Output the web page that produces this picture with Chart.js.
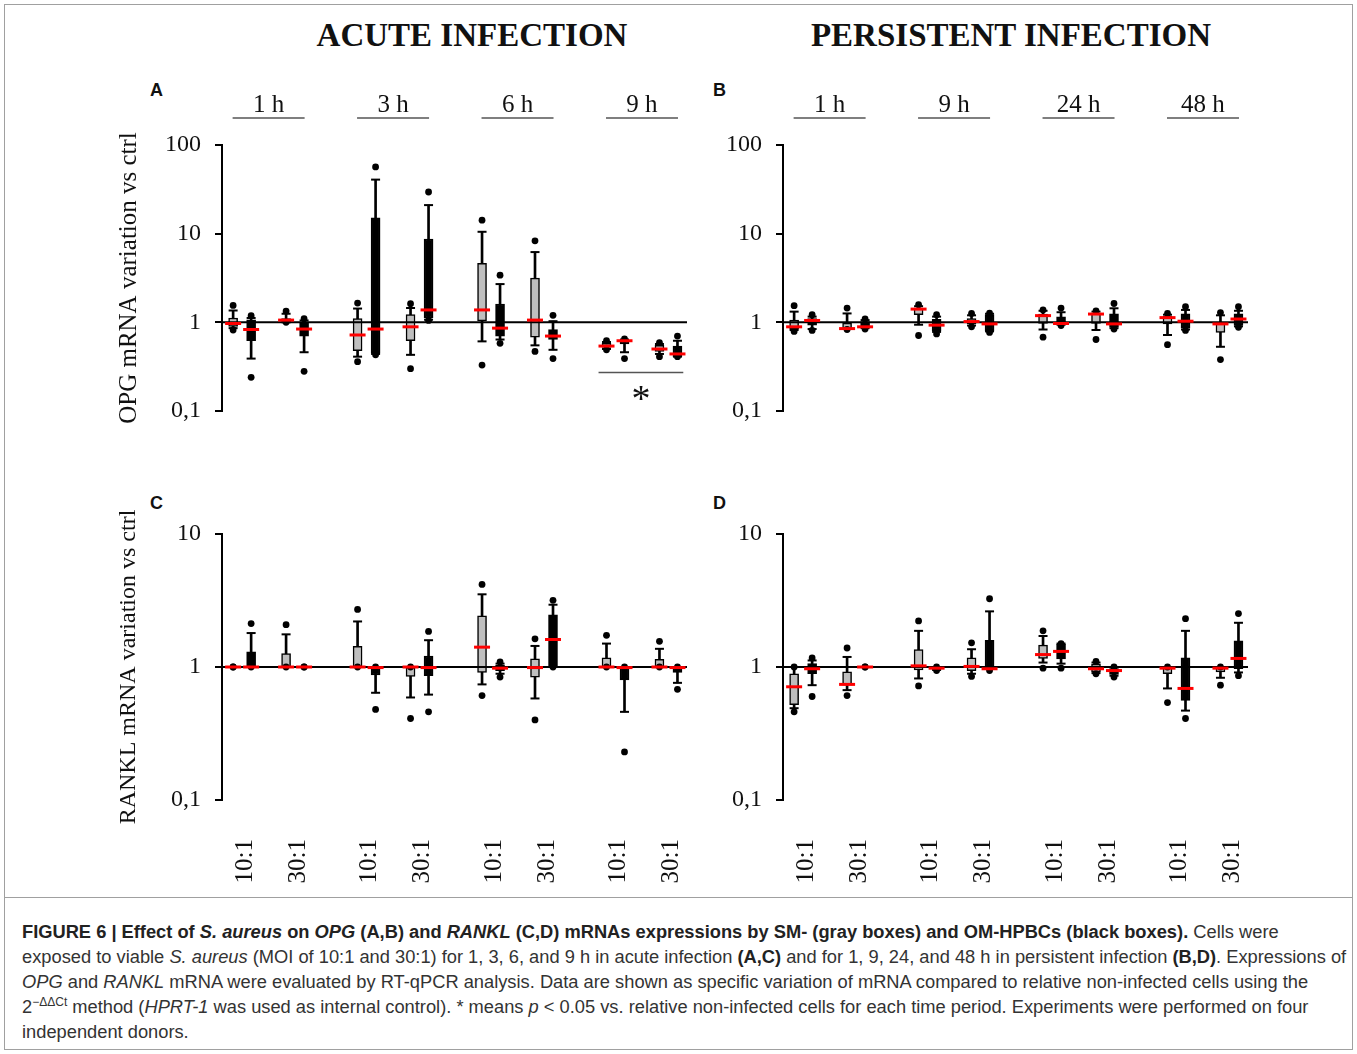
<!DOCTYPE html>
<html>
<head>
<meta charset="utf-8">
<title>Figure 6</title>
<script src="https://cdn.jsdelivr.net/npm/chart.js@4.4.1/dist/chart.umd.min.js"></script>
<style>
  body { margin: 0; background: #fff; }
  #page { position: relative; width: 1357px; height: 1054px; overflow: hidden; background: #fff; }
  .frame { position: absolute; left: 4px; top: 4px; width: 1349px; height: 1046px; border: 1px solid #a0a0a0; box-sizing: border-box; }
  .sep { position: absolute; left: 4px; top: 897px; width: 1349px; border-top: 1px solid #a0a0a0; }
  .head { position: absolute; top: 17px; width: 600px; text-align: center; font: bold 33px "Liberation Serif", serif; color: #111; }
  .letter { position: absolute; font: bold 18px "Liberation Sans", Arial, sans-serif; color: #111; }
  canvas { position: absolute; }
  .caption { position: absolute; left: 22px; top: 919px; font: 18.3px/25px "Liberation Sans", Arial, sans-serif; color: #333; white-space: nowrap; }
  .caption b { color: #222; }
  .caption sup { font-size: 12px; line-height: 0; }
</style>
</head>
<body>
<div id="page">
  <div class="frame"></div>
  <div class="sep"></div>
  <div class="head" style="left:172px">ACUTE INFECTION</div>
  <div class="head" style="left:711px">PERSISTENT INFECTION</div>
  <div class="letter" style="left:150px;top:80px">A</div>
  <div class="letter" style="left:713px;top:80px">B</div>
  <div class="letter" style="left:150px;top:493px">C</div>
  <div class="letter" style="left:713px;top:493px">D</div>

  <canvas id="chartA" width="600" height="370" style="left:100px;top:60px"></canvas>
  <canvas id="chartB" width="600" height="370" style="left:661px;top:60px"></canvas>
  <canvas id="chartC" width="600" height="420" style="left:100px;top:480px"></canvas>
  <canvas id="chartD" width="600" height="420" style="left:661px;top:480px"></canvas>

  <div class="caption">
    <b>FIGURE 6 | Effect of <i>S. aureus</i> on <i>OPG</i> (A,B) and <i>RANKL</i> (C,D) mRNAs expressions by SM- (gray boxes) and OM-HPBCs (black boxes).</b> Cells were<br>
    exposed to viable <i>S. aureus</i> (MOI of 10:1 and 30:1) for 1, 3, 6, and 9 h in acute infection <b>(A,C)</b> and for 1, 9, 24, and 48 h in persistent infection <b>(B,D)</b>. Expressions of<br>
    <i>OPG</i> and <i>RANKL</i> mRNA were evaluated by RT-qPCR analysis. Data are shown as specific variation of mRNA compared to relative non-infected cells using the<br>
    2<sup>&minus;&Delta;&Delta;Ct</sup> method (<i>HPRT-1</i> was used as internal control). * means <i>p</i> &lt; 0.05 vs. relative non-infected cells for each time period. Experiments were performed on four<br>
    independent donors.
  </div>
</div>

<script>
// categories
const acuteTimes = ["1 h", "3 h", "6 h", "9 h"];
const persistentTimes = ["1 h", "9 h", "24 h", "48 h"];
const mois = ["10:1", "30:1"];
const yTicksOPG = [0.1, 1, 10, 100];
const yTicksRANKL = [0.1, 1, 10];

// every row: [min, whisker low, q1, median, q3, whisker high, max]
// rows go 10:1, 30:1 for each time point in order
const opgAcuteSM = [
  [0.82, 0.86, 0.90, 0.97, 1.12, 1.36, 1.55],
  [1.00, 1.00, 1.01, 1.06, 1.10, 1.25, 1.34],
  [0.36, 0.41, 0.48, 0.72, 1.10, 1.43, 1.65],
  [0.30, 0.43, 0.62, 0.89, 1.22, 1.45, 1.62],
  [0.33, 0.61, 1.04, 1.38, 4.64, 10.5, 14.2],
  [0.47, 0.55, 0.68, 1.06, 3.15, 6.2, 8.3],
  [0.49, 0.50, 0.52, 0.54, 0.58, 0.60, 0.62],
  [0.41, 0.44, 0.47, 0.50, 0.55, 0.57, 0.59]
];
const opgAcuteOM = [
  [0.24, 0.39, 0.62, 0.83, 1.07, 1.12, 1.19],
  [0.28, 0.46, 0.70, 0.84, 1.00, 1.05, 1.10],
  [0.43, 0.44, 0.45, 0.84, 15.1, 40.7, 56.6],
  [1.05, 1.07, 1.12, 1.38, 8.7, 21.0, 29.5],
  [0.58, 0.64, 0.70, 0.86, 1.61, 2.7, 3.4],
  [0.39, 0.49, 0.64, 0.70, 0.83, 1.03, 1.20],
  [0.39, 0.46, 0.57, 0.62, 0.63, 0.64, 0.65],
  [0.41, 0.41, 0.41, 0.44, 0.54, 0.62, 0.70]
];
const opgPersistentSM = [
  [0.79, 0.82, 0.84, 0.89, 1.06, 1.32, 1.54],
  [0.83, 0.84, 0.85, 0.85, 0.98, 1.26, 1.45],
  [0.71, 0.94, 1.22, 1.41, 1.45, 1.52, 1.58],
  [0.89, 0.92, 0.96, 1.02, 1.10, 1.20, 1.26],
  [0.68, 0.83, 0.97, 1.19, 1.24, 1.35, 1.38],
  [0.64, 0.82, 0.97, 1.24, 1.26, 1.32, 1.35],
  [0.56, 0.72, 0.96, 1.13, 1.17, 1.22, 1.26],
  [0.38, 0.53, 0.77, 0.96, 0.98, 1.20, 1.29]
];
const opgPersistentOM = [
  [0.81, 0.84, 0.93, 1.05, 1.10, 1.16, 1.22],
  [0.84, 0.86, 0.88, 0.89, 1.02, 1.06, 1.09],
  [0.74, 0.78, 0.80, 0.93, 1.08, 1.16, 1.22],
  [0.77, 0.79, 0.80, 0.96, 1.22, 1.25, 1.27],
  [0.92, 0.94, 0.96, 0.97, 1.15, 1.30, 1.45],
  [0.84, 0.86, 0.88, 0.96, 1.25, 1.44, 1.63],
  [0.81, 0.83, 0.86, 1.03, 1.25, 1.38, 1.50],
  [0.88, 0.90, 0.92, 1.09, 1.25, 1.35, 1.50]
];
const ranklAcuteSM = [
  [1.00, 1.00, 1.00, 1.00, 1.00, 1.00, 1.00],
  [1.00, 1.00, 1.00, 1.00, 1.26, 1.76, 2.08],
  [1.00, 1.00, 1.00, 1.00, 1.43, 2.20, 2.71],
  [0.41, 0.59, 0.85, 1.00, 1.00, 1.00, 1.00],
  [0.61, 0.74, 0.91, 1.41, 2.42, 3.52, 4.18],
  [0.40, 0.58, 0.84, 0.99, 1.15, 1.44, 1.63],
  [1.00, 1.00, 1.00, 1.00, 1.17, 1.50, 1.73],
  [1.00, 1.00, 1.00, 1.00, 1.14, 1.37, 1.56]
];
const ranklAcuteOM = [
  [1.00, 1.00, 1.00, 1.00, 1.30, 1.80, 2.12],
  [1.00, 1.00, 1.00, 1.00, 1.00, 1.00, 1.00],
  [0.48, 0.64, 0.87, 0.99, 1.00, 1.00, 1.00],
  [0.46, 0.62, 0.86, 0.99, 1.21, 1.59, 1.85],
  [0.84, 0.89, 0.94, 0.98, 1.03, 1.06, 1.09],
  [1.00, 1.00, 1.00, 1.61, 2.47, 2.94, 3.17],
  [0.23, 0.46, 0.80, 0.99, 1.00, 1.00, 1.00],
  [0.68, 0.76, 0.91, 0.99, 1.00, 1.00, 1.00]
];
const ranklPersistentSM = [
  [0.46, 0.49, 0.52, 0.71, 0.89, 1.00, 1.00],
  [0.61, 0.67, 0.73, 0.74, 0.92, 1.19, 1.39],
  [0.72, 0.82, 0.95, 1.02, 1.35, 1.87, 2.22],
  [0.85, 0.89, 0.94, 1.01, 1.17, 1.36, 1.52],
  [0.98, 1.08, 1.16, 1.24, 1.46, 1.71, 1.87],
  [0.89, 0.90, 0.92, 0.97, 1.05, 1.08, 1.10],
  [0.54, 0.69, 0.89, 0.98, 1.00, 1.00, 1.00],
  [0.73, 0.83, 0.92, 0.98, 1.00, 1.00, 1.00]
];
const ranklPersistentOM = [
  [0.60, 0.73, 0.89, 0.97, 1.06, 1.12, 1.17],
  [1.00, 1.00, 1.00, 1.00, 1.00, 1.00, 1.00],
  [0.94, 0.95, 0.96, 0.98, 0.99, 1.00, 1.00],
  [0.94, 0.97, 0.97, 0.97, 1.59, 2.62, 3.26],
  [0.98, 1.06, 1.15, 1.31, 1.48, 1.50, 1.50],
  [0.84, 0.86, 0.88, 0.94, 0.97, 0.99, 1.00],
  [0.41, 0.47, 0.56, 0.69, 1.17, 1.87, 2.31],
  [0.86, 0.91, 0.97, 1.16, 1.57, 2.15, 2.52]
];
// p < 0.05 per time point (panel A only)
const opgAcuteSignif = [false, false, false, true];

// x placement: pairs of MOI inside a time point, gray box left, black box right
const groupStep = 2.35;
const cellShift = 0.17;
const xMin = -0.38, xMax = 8.4;
const serif = "'Liberation Serif', 'Times New Roman', serif";

function pairX(i) {
  return Math.floor(i / 2) * groupStep + (i % 2);
}

function boxSets(rows, dx, fill) {
  const xs = rows.map((r, i) => pairX(i) + dx);
  return [
    { type: "bar", data: rows.map((r, i) => ({ x: xs[i], y: [r[1], r[5]] })),
      backgroundColor: "#000", barThickness: 2, grouped: false, order: 5 },
    { type: "bar", data: rows.map((r, i) => ({ x: xs[i], y: [r[2], r[4]] })),
      backgroundColor: fill, borderColor: "#000", borderWidth: 1.5, borderSkipped: false,
      barThickness: 9, grouped: false, order: 4 },
    { type: "scatter", data: rows.flatMap((r, i) => [{ x: xs[i], y: r[1] }, { x: xs[i], y: r[5] }]),
      pointStyle: "line", pointRadius: 4.5, borderColor: "#000", borderWidth: 2, order: 3 },
    { type: "scatter", data: rows.flatMap((r, i) => [{ x: xs[i], y: r[0] }, { x: xs[i], y: r[6] }]),
      pointStyle: "circle", pointRadius: 3.4, backgroundColor: "#000", borderWidth: 0, order: 2 },
    { type: "scatter", data: rows.map((r, i) => ({ x: xs[i], y: r[3] })),
      pointStyle: "line", pointRadius: 8, borderColor: "#ff0000", borderWidth: 3, order: 0 }
  ];
}

// time labels with underline above panels A/B, and the * bracket
const headerPlugin = {
  id: "timeHeaders",
  afterDraw(chart, args, opts) {
    const { ctx, chartArea, scales } = chart;
    const x = scales.x, y = scales.y;
    ctx.save();
    if (opts.labels) {
      ctx.font = "25px " + serif;
      ctx.fillStyle = "#111";
      ctx.textAlign = "center";
      ctx.textBaseline = "middle";
      ctx.strokeStyle = "#555";
      ctx.lineWidth = 1.5;
      opts.labels.forEach((t, g) => {
        const cx = x.getPixelForValue(g * groupStep + 0.5);
        ctx.fillText(t, cx, chartArea.top - 40);
        ctx.beginPath();
        ctx.moveTo(cx - 36, chartArea.top - 27);
        ctx.lineTo(cx + 36, chartArea.top - 27);
        ctx.stroke();
      });
    }
    if (opts.signif) {
      opts.signif.forEach((s, g) => {
        if (!s) return;
        const low = Math.min(...[2 * g, 2 * g + 1].flatMap(i => [opts.sm[i][0], opts.om[i][0]]));
        const py = Math.round(y.getPixelForValue(low / 1.4)) + 0.5;
        const cx = x.getPixelForValue(g * groupStep + 0.5);
        ctx.strokeStyle = "#555";
        ctx.lineWidth = 1.5;
        ctx.beginPath();
        ctx.moveTo(x.getPixelForValue(g * groupStep + 0.5 - 0.82), py);
        ctx.lineTo(x.getPixelForValue(g * groupStep + 0.5 + 0.78), py);
        ctx.stroke();
        ctx.font = "38px " + serif;
        ctx.fillStyle = "#111";
        ctx.textAlign = "center";
        ctx.textBaseline = "alphabetic";
        ctx.fillText("*", cx - 1, py + 38);
      });
    }
    ctx.restore();
  }
};

function makePanel(id, cfg) {
  const datasets = [
    ...boxSets(cfg.sm, -cellShift, "#bfbfbf"),
    ...boxSets(cfg.om, cellShift, "#000"),
    { type: "line", data: [{ x: xMin, y: 1 }, { x: xMax, y: 1 }],
      borderColor: "#000", borderWidth: 2, pointRadius: 0, order: 1 }
  ];
  new Chart(document.getElementById(id), {
    type: "bar",
    data: { datasets },
    plugins: [headerPlugin],
    options: {
      responsive: false,
      animation: false,
      events: [],
      layout: { padding: cfg.padding },
      plugins: {
        legend: { display: false },
        tooltip: { enabled: false },
        timeHeaders: { labels: cfg.times, signif: cfg.signif, sm: cfg.sm, om: cfg.om }
      },
      scales: {
        x: {
          type: "linear",
          min: xMin,
          max: xMax,
          offset: false,
          display: cfg.showMoi,
          afterBuildTicks: s => { s.ticks = cfg.sm.map((r, i) => ({ value: pairX(i) })); },
          afterFit: s => {
            s.paddingLeft = 0;
            s.paddingRight = 0;
            if (cfg.showMoi) s.height = 90;
          },
          grid: { display: false, drawTicks: false },
          border: { display: false },
          ticks: {
            autoSkip: false, minRotation: 90, maxRotation: 90, padding: 39, labelOffset: 3,
            font: { family: serif, size: 25 }, color: "#111",
            callback: (v, i) => mois[i % 2]
          }
        },
        y: {
          type: "logarithmic",
          min: 0.1,
          max: cfg.yTicks[cfg.yTicks.length - 1],
          afterBuildTicks: s => { s.ticks = cfg.yTicks.map(v => ({ value: v })); },
          afterFit: s => {
            s.width = 112;
            s.paddingTop = 0;
            s.paddingBottom = 0;
          },
          grid: { display: true, drawOnChartArea: false, tickLength: 7, color: "#000", lineWidth: 2 },
          border: { display: true, color: "#000", width: 2 },
          ticks: {
            autoSkip: false, padding: 14, color: "#111",
            font: { family: serif, size: 24 },
            callback: v => String(v).replace(".", ",")
          },
          title: {
            display: !!cfg.yTitle, text: cfg.yTitle || "", color: "#111",
            font: { family: serif, size: cfg.titleSize || 24 }, padding: { top: 4, bottom: 4 }
          }
        }
      }
    }
  });
}

makePanel("chartA", { sm: opgAcuteSM, om: opgAcuteOM, times: acuteTimes, signif: opgAcuteSignif,
  yTicks: yTicksOPG, yTitle: "OPG mRNA variation vs ctrl", titleSize: 25, showMoi: false,
  padding: { left: 10, top: 85, right: 13, bottom: 19 } });
makePanel("chartB", { sm: opgPersistentSM, om: opgPersistentOM, times: persistentTimes,
  yTicks: yTicksOPG, showMoi: false,
  padding: { left: 10, top: 85, right: 13, bottom: 19 } });
makePanel("chartC", { sm: ranklAcuteSM, om: ranklAcuteOM,
  yTicks: yTicksRANKL, yTitle: "RANKL mRNA variation vs ctrl", showMoi: true,
  padding: { left: 10, top: 54, right: 13, bottom: 10 } });
makePanel("chartD", { sm: ranklPersistentSM, om: ranklPersistentOM,
  yTicks: yTicksRANKL, showMoi: true,
  padding: { left: 10, top: 54, right: 13, bottom: 10 } });
</script>
</body>
</html>
